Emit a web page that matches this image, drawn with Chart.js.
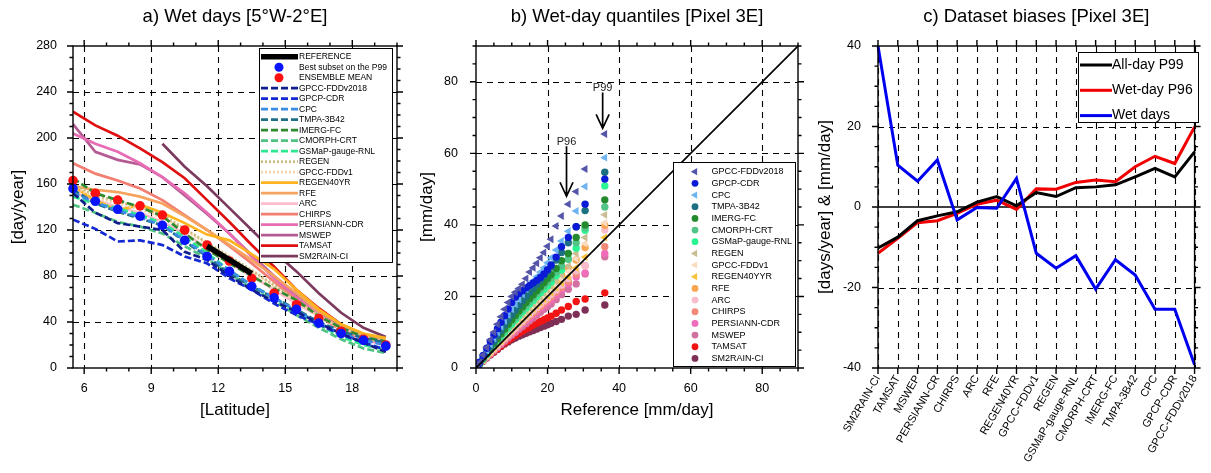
<!DOCTYPE html>
<html>
<head>
<meta charset="utf-8">
<script src="https://cdn.jsdelivr.net/npm/chart.js@4/dist/chart.umd.min.js"></script>
<style>
  html, body { margin: 0; padding: 0; background: #fff; overflow: hidden; }
  canvas { position: absolute; top: 0; }
</style>
</head>
<body>
<canvas id="wetDays" width="410" height="473" style="left:0"></canvas>
<canvas id="quantiles" width="400" height="473" style="left:410px"></canvas>
<canvas id="biases" width="401" height="473" style="left:810px"></canvas>
<script>
// ---- panel a: wet days per latitude band ----
const latitudes = [5.5, 6.5, 7.5, 8.5, 9.5, 10.5, 11.5, 12.5, 13.5, 14.5, 15.5, 16.5, 17.5, 18.5, 19.5];
const latTicks = [6, 9, 12, 15, 18];
const wdReference = [null, null, null, null, null, null, 106, 94, 82, null, null, null, null, null, null];
const wdBestSubset = [156, 145, 138, 132, 124, 111, 97, 84, 71, 61, 51, 39, 30, 24, 19];
const wdEnsembleMean = [163, 152, 146, 141, 133, 120, 107, 93, 78, 65, 55, 43, 32, 25, 20];
const wdGpccFdd2018 = [152, 135, 126, 123, 120, 101, 94, 80, 68, 58, 49, 39, 30, 22, 14];
const wdGpcpCdr = [129, 121, 110, 111, 107, 97, 91, 78, 68, 56, 46, 38, 29, 22, 16];
const wdCpc = [152, 144, 137, 131, 124, 111, 98, 85, 72, 61, 50, 39, 30, 24, 20];
const wdTmpa = [155, 143, 136, 130, 124, 110, 97, 82, 71, 61, 51, 40, 32, 26, 22];
const wdImerg = [165, 152, 146, 140, 132, 117, 103, 91, 80, 69, 59, 45, 35, 27, 23];
const wdCmorph = [142, 135, 127, 123, 117, 106, 95, 82, 69, 58, 46, 35, 25, 17, 13];
const wdGsmap = [149, 143, 139, 133, 126, 114, 100, 85, 72, 61, 49, 38, 27, 20, 16];
const wdRegen = [160, 150, 145, 140, 133, 121, 109, 97, 85, 72, 59, 46, 35, 27, 22];
const wdGpccFdd1 = [158, 148, 143, 138, 131, 120, 108, 96, 84, 71, 58, 45, 34, 26, 21];
const wdRegen40 = [158, 146, 137, 142, 135, 126, 116, 111, 99, 86, 68, 51, 38, 30, 26];
const wdRfe = [158, 155, 153, 149, 143, 132, 120, 107, 94, 80, 65, 49, 38, 29, 25];
const wdArc = [153, 146, 140, 135, 127, 117, 104, 91, 80, 68, 56, 45, 35, 27, 23];
const wdChirps = [178, 169, 163, 156, 146, 133, 120, 106, 91, 75, 59, 45, 33, 26, 22];
const wdPersiann = [204, 195, 188, 178, 166, 152, 135, 117, 97, 78, 61, 46, 33, 25, 20];
const wdMswep = [212, 188, 181, 177, 166, 150, 134, 117, 98, 80, 64, 49, 36, 27, 23];
const wdTamsat = [223, 211, 202, 191, 179, 165, 146, 127, 107, 88, 68, 52, 38, 27, 23];
const wdSm2rain = [null, null, null, null, 195, 175, 158, 139, 120, 101, 84, 65, 48, 35, 27];

// ---- panel b: wet-day quantiles vs reference ----
const refQuantiles = [0.5, 1, 2, 3, 4, 5, 6, 7, 8, 9, 10, 11, 12, 13, 14, 15, 16, 17, 18, 19, 20, 21, 22.4, 23.9, 25.8, 28, 30.5, 36];
const qTicks = [0, 20, 40, 60, 80];
const diagonal = [0, 90];
const arrowNames = ['P96', 'P99'];
const arrowRef = [25.3, 35.4];
const arrowFrom = [62, 77];
const arrowTo = [48, 67];
const qGpccFdd2018 = [0.6, 1.6, 3.6, 5.7, 7.8, 10, 12.2, 14.3, 16.4, 18.3, 20, 21.2, 22.2, 23.4, 25, 26.8, 28, 29.3, 30.8, 32.3, 34, 36, 39.7, 42.5, 45.8, 49.3, 55.6, 65.4];
const qGpcpCdr = [0.6, 1.6, 3.5, 5.5, 7.4, 9.2, 11, 12.8, 14.6, 16.5, 18.3, 19.8, 20.8, 21.6, 22.4, 23.1, 23.8, 24.5, 25.3, 26.3, 27.5, 28.8, 31, 33.9, 36.5, 39.5, 45.8, 52.8];
const qCpc = [0.5, 1.4, 3.1, 4.9, 6.6, 8.3, 10, 11.6, 13.2, 14.8, 16.4, 17.8, 19.2, 20.6, 22, 23.2, 24.4, 25.6, 26.8, 28, 29.4, 30.8, 33, 35.5, 38.2, 43.9, 50.7, 58.8];
const qTmpa = [0.5, 1.3, 2.9, 4.5, 6, 7.5, 9, 10.5, 12, 13.5, 14.9, 16.2, 17.5, 18.8, 20, 21.2, 22.3, 23.4, 24.6, 25.8, 27, 28.2, 30.2, 32.3, 35, 39.5, 44, 54.7];
const qImerg = [0.5, 1.2, 2.7, 4.1, 5.5, 6.9, 8.2, 9.6, 10.9, 12.2, 13.5, 14.7, 15.9, 17.1, 18.3, 19.4, 20.5, 21.6, 22.7, 23.8, 25, 26.1, 27.8, 30, 32, 36.5, 40, 47];
const qCmorph = [0.5, 1.2, 2.6, 4, 5.3, 6.6, 7.9, 9.2, 10.5, 11.7, 12.9, 14.1, 15.3, 16.4, 17.5, 18.6, 19.7, 20.8, 21.9, 23, 24, 25.1, 26.8, 28.5, 30.4, 35, 39.2, 45];
const qGsmap = [0.5, 1.1, 2.5, 3.8, 5.1, 6.3, 7.6, 8.8, 10, 11.2, 12.3, 13.5, 14.6, 15.7, 16.8, 17.9, 18.9, 20, 21, 22, 23, 24, 25.8, 27.4, 30.5, 33.5, 38.5, 50.9];
const qRegen = [0.5, 1.1, 2.4, 3.6, 4.8, 6, 7.1, 8.3, 9.4, 10.5, 11.6, 12.7, 13.7, 14.8, 15.8, 16.8, 17.8, 18.8, 19.8, 20.8, 21.8, 22.8, 24.2, 26, 28.5, 32, 36.5, 42.8];
const qGpccFdd1 = [0.5, 1.1, 2.3, 3.5, 4.7, 5.8, 6.9, 8, 9.1, 10.2, 11.2, 12.2, 13.2, 14.2, 15.2, 16.2, 17.1, 18.1, 19, 20, 21, 21.9, 23.2, 25, 27, 30.5, 34.8, 40.6];
const qRegen40 = [0.5, 1, 2.2, 3.3, 4.4, 5.5, 6.6, 7.6, 8.7, 9.7, 10.7, 11.7, 12.7, 13.6, 14.6, 15.5, 16.5, 17.4, 18.3, 19.2, 20.2, 21.1, 22.4, 23.8, 25.5, 28, 31, 36.5];
const qRfe = [0.5, 1.1, 2.3, 3.5, 4.6, 5.7, 6.8, 7.9, 9, 10.1, 11.1, 12.2, 13.2, 14.2, 15.2, 16.2, 17.2, 18.2, 19.2, 20.2, 21.3, 22.3, 24, 26, 28, 30.2, 33.7, 39.9];
const qArc = [0.5, 1, 2.2, 3.2, 4.3, 5.3, 6.3, 7.3, 8.3, 9.3, 10.3, 11.2, 12.2, 13.1, 14.1, 15, 16, 16.9, 17.8, 18.7, 19.6, 20.6, 21.8, 23.2, 25, 27.2, 28.6, 38.6];
const qChirps = [0.5, 1, 2.1, 3.1, 4.1, 5.1, 6.1, 7.1, 8, 9, 9.9, 10.9, 11.8, 12.7, 13.6, 14.5, 15.4, 16.3, 17.2, 18.1, 19, 19.9, 21.2, 22.5, 24.2, 26.3, 28.6, 33.9];
const qPersiann = [0.5, 1, 2.1, 3.1, 4, 5, 5.9, 6.9, 7.8, 8.7, 9.6, 10.5, 11.4, 12.3, 13.2, 14, 14.9, 15.8, 16.6, 17.4, 18.3, 19.1, 20.4, 21.8, 23.5, 25.4, 26.6, 32];
const qMswep = [0.5, 1, 2, 3, 3.9, 4.8, 5.7, 6.6, 7.5, 8.4, 9.2, 10, 10.8, 11.6, 12.4, 13.2, 14, 14.8, 15.6, 16.4, 17.1, 17.9, 19.1, 20.5, 22, 23.5, 26.3, 31.1];
const qTamsat = [0.5, 1, 2, 2.9, 3.8, 4.6, 5.4, 6.2, 7, 7.7, 8.4, 9.1, 9.7, 10.3, 10.9, 11.4, 12, 12.5, 13, 13.5, 14, 14.5, 15.3, 16.2, 17.2, 18.6, 19.3, 21];
const qSm2rain = [0.5, 1, 1.9, 2.8, 3.6, 4.4, 5.2, 6, 6.7, 7.3, 7.9, 8.4, 8.9, 9.3, 9.7, 10.1, 10.5, 10.9, 11.3, 11.7, 12.1, 12.5, 13, 13.6, 14.5, 15, 16.2, 17.6];

// ---- panel c: dataset biases ----
const biasCategories = ['SM2RAIN-CI', 'TAMSAT', 'MSWEP', 'PERSIANN-CR', 'CHIRPS', 'ARC', 'RFE', 'REGEN40YR', 'GPCC-FDDv1', 'REGEN', 'GSMaP-gauge-RNL', 'CMORPH-CRT', 'IMERG-FC', 'TMPA-3B42', 'CPC', 'GPCP-CDR', 'GPCC-FDDv2018'];
const biasAllDayP99 = [-10.2, -7.5, -3.4, -2.2, -1.2, 1.2, 2.6, 0.3, 3.6, 2.6, 4.8, 5, 5.5, 7.5, 9.6, 7.5, 13.7];
const biasWetDayP96 = [-11.5, -7.8, -3.9, -3.4, -1.6, 0.7, 1.7, -0.6, 4.5, 4.4, 6.1, 6.7, 6.3, 10, 12.6, 10.8, 19.9];
const biasWetDays = [40, 10.4, 6.4, 11.7, -3.2, -0.1, -0.3, 7.1, -11.5, -15.2, -12.1, -20.4, -13.1, -16.9, -25.4, -25.4, -39.2];

const FONT = '"Liberation Sans", Arial, Helvetica, sans-serif';
Chart.defaults.font.family = FONT;
Chart.defaults.color = '#000';
Chart.defaults.animation = false;
Chart.defaults.plugins.legend.display = false;
Chart.defaults.plugins.tooltip.enabled = false;

const noGrid = { display: false, drawTicks: false, tickLength: 0 };
const tickFont = { size: 12.5 };
const dashes = { dash: [7, 3], dot: [2, 2], solid: [] };

function range(a, b, s) {
  const out = [];
  for (let v = a; v <= b + 1e-9; v += s) out.push(+v.toFixed(4));
  return out;
}

function axisTitle(text, padding) {
  return { display: true, text, color: '#000', font: { size: 17 }, padding };
}

function marker(ctx, shape, x, y, r) {
  ctx.beginPath();
  if (shape === 'triangle') {
    let rad = -Math.PI / 2;
    ctx.moveTo(x + Math.sin(rad) * r, y - Math.cos(rad) * r);
    rad += 2 * Math.PI / 3;
    ctx.lineTo(x + Math.sin(rad) * r, y - Math.cos(rad) * r);
    rad += 2 * Math.PI / 3;
    ctx.lineTo(x + Math.sin(rad) * r, y - Math.cos(rad) * r);
    ctx.closePath();
  } else {
    ctx.arc(x, y, r, 0, Math.PI * 2);
  }
  ctx.fill();
}

function drawLegend(ctx, L) {
  ctx.save();
  ctx.fillStyle = '#fff';
  ctx.fillRect(L.x, L.y, L.w, L.h);
  ctx.strokeStyle = '#000';
  ctx.lineWidth = 1;
  ctx.strokeRect(L.x + 0.5, L.y + 0.5, L.w, L.h);
  ctx.font = L.font;
  ctx.textBaseline = 'middle';
  ctx.textAlign = 'left';
  L.entries.forEach((e, i) => {
    const yy = L.y0 + i * L.dy;
    if (e.kind === 'line') {
      ctx.strokeStyle = e.color;
      ctx.lineWidth = e.width;
      ctx.setLineDash(e.dash || []);
      ctx.beginPath();
      ctx.moveTo(L.lx0, yy);
      ctx.lineTo(L.lx1, yy);
      ctx.stroke();
      ctx.setLineDash([]);
    } else {
      ctx.fillStyle = e.color;
      marker(ctx, e.shape, L.mx, yy, e.r);
    }
    ctx.fillStyle = '#000';
    ctx.fillText(e.label, L.tx, yy);
  });
  ctx.restore();
}

// NCL-like frame: dashed grid, boxed axes with outward ticks on all sides, title, legend
function nclPanel(cfg) {
  return {
    id: 'nclPanel',
    beforeDatasetsDraw(chart) {
      const { ctx, chartArea: a, scales: { x, y } } = chart;
      ctx.save();
      ctx.strokeStyle = '#000';
      ctx.lineWidth = 1.1;
      ctx.setLineDash([6, 5]);
      ctx.beginPath();
      cfg.xGrid.forEach(v => {
        const p = Math.round(x.getPixelForValue(v)) + 0.5;
        ctx.moveTo(p, a.top); ctx.lineTo(p, a.bottom);
      });
      cfg.yGrid.forEach(v => {
        const p = Math.round(y.getPixelForValue(v)) + 0.5;
        ctx.moveTo(a.left, p); ctx.lineTo(a.right, p);
      });
      ctx.stroke();
      ctx.setLineDash([]);
      if (cfg.zeroLine !== undefined) {
        const p = y.getPixelForValue(cfg.zeroLine);
        ctx.lineWidth = 1.5;
        ctx.beginPath();
        ctx.moveTo(a.left, p); ctx.lineTo(a.right, p);
        ctx.stroke();
      }
      ctx.restore();
    },
    afterDatasetsDraw(chart) {
      const { ctx, chartArea: a, scales: { x, y } } = chart;
      ctx.save();
      ctx.strokeStyle = '#000';
      ctx.lineWidth = 1.4;
      ctx.strokeRect(a.left, a.top, a.right - a.left, a.bottom - a.top);
      ctx.beginPath();
      const xt = (vals, len) => vals.forEach(v => {
        const p = x.getPixelForValue(v);
        ctx.moveTo(p, a.bottom); ctx.lineTo(p, a.bottom + len);
        ctx.moveTo(p, a.top); ctx.lineTo(p, a.top - len);
      });
      const yt = (vals, len) => vals.forEach(v => {
        const p = y.getPixelForValue(v);
        ctx.moveTo(a.left - len, p); ctx.lineTo(a.left, p);
        ctx.moveTo(a.right, p); ctx.lineTo(a.right + len, p);
      });
      xt(cfg.xMajor, 6); xt(cfg.xMinor, 3.5);
      yt(cfg.yMajor, 6); yt(cfg.yMinor, 3.5);
      ctx.stroke();
      ctx.restore();
      if (cfg.extras) cfg.extras(chart);
      if (cfg.legend) drawLegend(ctx, cfg.legend);
      ctx.save();
      ctx.fillStyle = '#000';
      ctx.font = '18.5px ' + FONT;
      ctx.textAlign = 'center';
      ctx.textBaseline = 'middle';
      ctx.fillText(cfg.title, (a.left + a.right) / 2, 17);
      ctx.restore();
    }
  };
}

// ================= panel a =================
const seriesA = [
  ['GPCC-FDDv2018', wdGpccFdd2018, '#101e8c', 'dash'],
  ['GPCP-CDR', wdGpcpCdr, '#1428d2', 'dash'],
  ['CPC', wdCpc, '#3c8ce6', 'dash'],
  ['TMPA-3B42', wdTmpa, '#1f6e87', 'dash'],
  ['IMERG-FC', wdImerg, '#2f8a2f', 'dash'],
  ['CMORPH-CRT', wdCmorph, '#4fc282', 'dash'],
  ['GSMaP-gauge-RNL', wdGsmap, '#2ee890', 'dash'],
  ['REGEN', wdRegen, '#c9ba7c', 'dot'],
  ['GPCC-FDDv1', wdGpccFdd1, '#f7d6ae', 'dot'],
  ['REGEN40YR', wdRegen40, '#ffb31f', 'solid'],
  ['RFE', wdRfe, '#f6a35f', 'solid'],
  ['ARC', wdArc, '#ffbccb', 'solid'],
  ['CHIRPS', wdChirps, '#f27e72', 'solid'],
  ['PERSIANN-CDR', wdPersiann, '#e86cb4', 'solid'],
  ['MSWEP', wdMswep, '#b45b93', 'solid'],
  ['TAMSAT', wdTamsat, '#e00f0f', 'solid'],
  ['SM2RAIN-CI', wdSm2rain, '#7b3a5e', 'solid']
];

const dsA = [
  { label: 'REFERENCE', data: wdReference, borderColor: '#000', borderWidth: 5.5, pointRadius: 0, order: 0 },
  { label: 'Best subset on the P99', data: wdBestSubset, showLine: false, pointRadius: 4.8,
    pointBackgroundColor: '#0a14ff', pointBorderWidth: 0, order: 1, clip: false },
  { label: 'ENSEMBLE MEAN', data: wdEnsembleMean, showLine: false, pointRadius: 4.8,
    pointBackgroundColor: '#ff1010', pointBorderWidth: 0, order: 1, clip: false },
  ...seriesA.map(([label, data, color, style]) => ({
    label, data, borderColor: color, borderWidth: 2.7, borderDash: dashes[style], pointRadius: 0, order: 2
  }))
];

new Chart(document.getElementById('wetDays'), {
  type: 'line',
  data: { labels: latitudes, datasets: dsA },
  options: {
    responsive: false,
    layout: { padding: { top: 46, right: 13, left: 0, bottom: 0 } },
    elements: { line: { tension: 0 } },
    scales: {
      x: {
        type: 'linear', min: 5.5, max: 20,
        afterBuildTicks: s => { s.ticks = latTicks.map(value => ({ value })); },
        afterFit: s => { s.height = 105; },
        grid: noGrid, border: { display: false },
        ticks: { font: tickFont, color: '#000', padding: 13, maxRotation: 0 },
        title: axisTitle('[Latitude]', { top: 0, bottom: 52.8 })
      },
      y: {
        min: 0, max: 280,
        afterFit: s => { s.width = 73; },
        grid: noGrid, border: { display: false },
        ticks: { stepSize: 40, font: tickFont, color: '#000', padding: 16 },
        title: axisTitle('[day/year]', { top: 7.8, bottom: 0 })
      }
    }
  },
  plugins: [nclPanel({
    title: 'a) Wet days [5°W-2°E]',
    xGrid: latTicks, yGrid: range(40, 240, 40),
    xMajor: latTicks, xMinor: range(6, 20, 1),
    yMajor: range(0, 280, 40), yMinor: range(0, 280, 10),
    legend: {
      x: 259, y: 48, w: 133, h: 214, y0: 56.7, dy: 10.5,
      lx0: 261, lx1: 298, mx: 279, tx: 299, font: '8.5px ' + FONT,
      entries: dsA.map(d => d.showLine === false
        ? { label: d.label, kind: 'dot', shape: 'circle', color: d.pointBackgroundColor, r: 4.5 }
        : { label: d.label, kind: 'line', color: d.borderColor, width: d.borderWidth, dash: d.borderDash })
    }
  })]
});

// ================= panel b =================
const seriesB = [
  ['GPCC-FDDv2018', qGpccFdd2018, '#5555aa', 'triangle'],
  ['GPCP-CDR', qGpcpCdr, '#0a1ad6', 'circle'],
  ['CPC', qCpc, '#6eb4f2', 'triangle'],
  ['TMPA-3B42', qTmpa, '#1d6f82', 'circle'],
  ['IMERG-FC', qImerg, '#238a2d', 'circle'],
  ['CMORPH-CRT', qCmorph, '#52c487', 'circle'],
  ['GSMaP-gauge-RNL', qGsmap, '#2af593', 'circle'],
  ['REGEN', qRegen, '#cbbd93', 'triangle'],
  ['GPCC-FDDv1', qGpccFdd1, '#f9dcc0', 'triangle'],
  ['REGEN40YYR', qRegen40, '#f9c23d', 'triangle'],
  ['RFE', qRfe, '#f8a552', 'circle'],
  ['ARC', qArc, '#f9bccb', 'circle'],
  ['CHIRPS', qChirps, '#f28a7a', 'circle'],
  ['PERSIANN-CDR', qPersiann, '#f06cbb', 'circle'],
  ['MSWEP', qMswep, '#d2709f', 'circle'],
  ['TAMSAT', qTamsat, '#f01414', 'circle'],
  ['SM2RAIN-CI', qSm2rain, '#7e2f55', 'circle']
];

const dsB = [
  { type: 'line', label: 'identity', data: diagonal.map(v => ({ x: v, y: v })), showLine: true,
    borderColor: '#000', borderWidth: 1.6, pointRadius: 0, order: 0 },
  ...seriesB.map(([label, vals, color, shape], i) => ({
    label,
    data: refQuantiles.map((r, k) => ({ x: r, y: vals[k] })),
    pointStyle: shape,
    pointRotation: shape === 'triangle' ? -90 : 0,
    pointRadius: shape === 'triangle' ? 4.6 : 3.7,
    pointBackgroundColor: color, pointBorderColor: color, pointBorderWidth: 0,
    order: 1 + i
  }))
];

function drawArrows(chart) {
  const { ctx, scales: { x, y } } = chart;
  ctx.save();
  ctx.strokeStyle = '#000';
  ctx.fillStyle = '#222';
  ctx.lineWidth = 1.7;
  ctx.font = '11px ' + FONT;
  ctx.textAlign = 'center';
  ctx.textBaseline = 'bottom';
  arrowNames.forEach((name, i) => {
    const px = x.getPixelForValue(arrowRef[i]);
    const y0 = y.getPixelForValue(arrowFrom[i]);
    const y1 = y.getPixelForValue(arrowTo[i]);
    ctx.fillText(name, px, y0 + 1);
    ctx.beginPath();
    ctx.moveTo(px, y0); ctx.lineTo(px, y1);
    ctx.moveTo(px - 6.5, y1 - 14); ctx.lineTo(px, y1); ctx.lineTo(px + 6.5, y1 - 14);
    ctx.stroke();
  });
  ctx.restore();
}

new Chart(document.getElementById('quantiles'), {
  type: 'scatter',
  data: { datasets: dsB },
  options: {
    responsive: false,
    layout: { padding: { top: 46, right: 12, left: 0, bottom: 0 } },
    scales: {
      x: {
        type: 'linear', min: 0, max: 90,
        afterBuildTicks: s => { s.ticks = qTicks.map(value => ({ value })); },
        afterFit: s => { s.height = 105; },
        grid: noGrid, border: { display: false },
        ticks: { font: tickFont, color: '#000', padding: 13, maxRotation: 0 },
        title: axisTitle('Reference [mm/day]', { top: 0, bottom: 52.8 })
      },
      y: {
        min: 0, max: 90,
        afterBuildTicks: s => { s.ticks = qTicks.map(value => ({ value })); },
        afterFit: s => { s.width = 66; },
        grid: noGrid, border: { display: false },
        ticks: { font: tickFont, color: '#000', padding: 18 },
        title: axisTitle('[mm/day]', { top: 6.8, bottom: 0 })
      }
    }
  },
  plugins: [nclPanel({
    title: 'b) Wet-day quantiles [Pixel 3E]',
    xGrid: [20, 40, 60, 80], yGrid: [20, 40, 60, 80],
    xMajor: qTicks, xMinor: range(0, 90, 5),
    yMajor: qTicks, yMinor: range(0, 90, 5),
    extras: drawArrows,
    legend: {
      x: 263, y: 162, w: 122, h: 204, y0: 171.7, dy: 11.67,
      mx: 285, tx: 301.5, font: '9px ' + FONT,
      entries: seriesB.map(([label, , color, shape]) => ({
        label, kind: 'marker', shape, color, r: shape === 'triangle' ? 4.2 : 3.4
      }))
    }
  })]
});

// ================= panel c =================
const dsC = [
  { label: 'All-day P99', data: biasAllDayP99, borderColor: '#000000', order: 1 },
  { label: 'Wet-day P96', data: biasWetDayP96, borderColor: '#f00000', order: 2 },
  { label: 'Wet days', data: biasWetDays, borderColor: '#0000f0', order: 0 }
].map(d => ({ ...d, borderWidth: 3, pointRadius: 0, tension: 0 }));

new Chart(document.getElementById('biases'), {
  type: 'line',
  data: { labels: biasCategories, datasets: dsC },
  options: {
    responsive: false,
    layout: { padding: { top: 46, right: 11, left: 0, bottom: 0 } },
    scales: {
      x: {
        type: 'category', offset: false,
        afterFit: s => { s.height = 105; },
        grid: noGrid, border: { display: false },
        ticks: { autoSkip: false, minRotation: 60, maxRotation: 60, font: { size: 11 }, color: '#000', padding: 5 }
      },
      y: {
        min: -40, max: 40,
        afterFit: s => { s.width = 68; },
        grid: noGrid, border: { display: false },
        ticks: { stepSize: 20, font: tickFont, color: '#000', padding: 17 },
        title: axisTitle('[days/year] & [mm/day]', { top: 4.8, bottom: 0 })
      }
    }
  },
  plugins: [nclPanel({
    title: 'c) Dataset biases [Pixel 3E]',
    xGrid: biasCategories.map((c, i) => i), yGrid: [-20, 20], zeroLine: 0,
    xMajor: biasCategories.map((c, i) => i), xMinor: [],
    yMajor: range(-40, 40, 20), yMinor: range(-40, 40, 5),
    legend: {
      x: 268, y: 52, w: 120, h: 70, y0: 65, dy: 25.3,
      lx0: 270, lx1: 302, tx: 302, font: '14px ' + FONT,
      entries: dsC.map(d => ({ label: d.label, kind: 'line', color: d.borderColor, width: 3 }))
    }
  })]
});
</script>
</body>
</html>
